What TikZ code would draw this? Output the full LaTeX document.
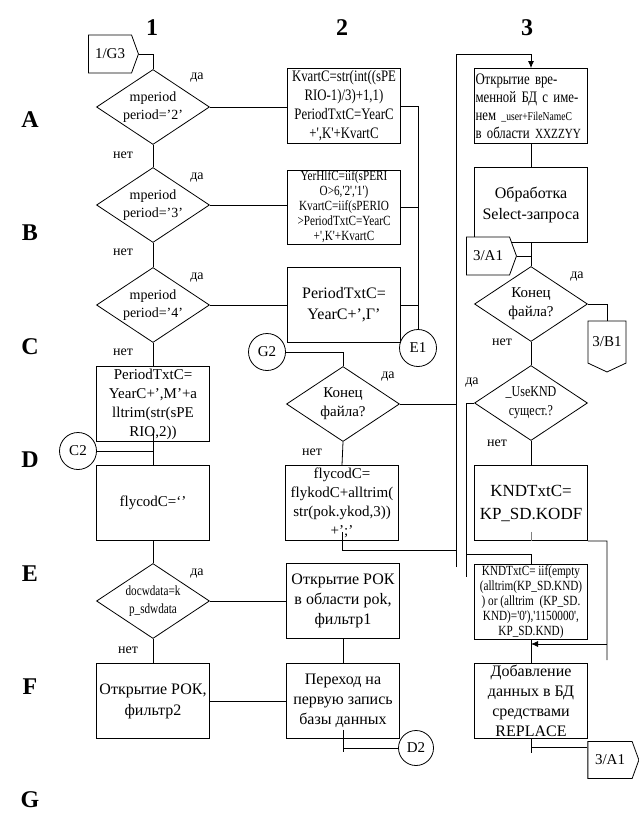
\documentclass[tikz,border=0pt]{standalone}
\usepackage{fontspec}
\setmainfont{Liberation Serif}
\newfontfamily\narrow[FakeStretch=0.8]{Liberation Serif}
\usetikzlibrary{shapes.geometric,shapes.symbols,arrows.meta}

\begin{document}
\begin{tikzpicture}[x=1pt,y=-1pt,line width=0.8pt]
    \tikzstyle{every node}+=[inner sep=0pt]
    \tikzstyle{blk}=[draw,fill=white,minimum width=113pt,minimum height=75pt,inner sep=1pt,align=center,font=\fontsize{15}{19}\selectfont]
    \tikzstyle{cond}=[draw,fill=white,diamond,shape aspect=1.53,minimum width=113pt,minimum height=75pt,inner sep=-3pt,align=center,font=\fontsize{14}{18}\selectfont]
    \tikzstyle{conn}=[draw,fill=white,circle,minimum size=37pt,font=\fontsize{15}{15}\selectfont]
    \tikzstyle{page}=[draw,fill=white,signal,signal from=nowhere,signal pointer angle=140,font=\fontsize{15}{15}\selectfont]
    \tikzstyle{lbl}=[font=\fontsize{14}{14}\selectfont]
    \tikzstyle{hdr}=[font=\fontsize{24}{24}\selectfont\bfseries]
    \useasboundingbox (0,0) rectangle (639,819);
    % headers
    \node[hdr] (h1) at (152,28) {1};
    \node[hdr] (h2) at (342,28) {2};
    \node[hdr] (h3) at (527,28) {3};
    \foreach \r/\y in {A/120,B/233,C/347,D/460,E/574,F/687,G/800}
        \node[hdr] (row\r) at (30,\y) {\r};
    % column 1
    \node[page,signal to=east,minimum width=50pt,minimum height=38pt] (g3) at (110,54) {1/G3};
    \node[cond] (d1) at (153,107) {mperiod\\period='2'};
    \node[cond] (d2) at (153,205) {mperiod\\period='3'};
    \node[cond] (d3) at (153,305) {mperiod\\period='4'};
    \node[blk] (bM) at (153,404) {PeriodTxtC=\\YearC+',M'+a\\lltrim(str(sPE\\RIO,2))};
    \node[conn] (c2) at (78,451) {C2};
    \node[blk] (bFlyA) at (153,503) {flycodC=`'};
    \node[cond,font=\narrow\fontsize{14}{18}\selectfont] (d4) at (153,601) {docwdata=k\\p\_sdwdata};
    \node[blk,font=\fontsize{16}{21}\selectfont] (bPokB) at (153,701) {Открытие РОК,\\фильтр2};
    % column 2
    \node[blk,font=\narrow\fontsize{16}{19}\selectfont] (bK1) at (344,106) {KvartC=str(int((sPE\\RIO-1)/3)+1,1)\\PeriodTxtC=YearC\\+',K'+KvartC};
    \node[blk,minimum height=71pt,font=\narrow\fontsize{14}{15}\selectfont] (bK2) at (344,207) {YerHlfC=iif(sPERI\\O>6,'2','1')\\KvartC=iif(sPERIO\\>PeriodTxtC=YearC\\+',K'+KvartC};
    \node[blk,font=\fontsize{16}{21}\selectfont] (bG) at (344,305) {PeriodTxtC=\\YearC+',Г'};
    \node[conn] (e1) at (418,348) {E1};
    \node[conn] (g2) at (267,352) {G2};
    \node[cond,font=\fontsize{15}{19}\selectfont] (dEndB) at (343,404) {Конец\\файла?};
    \node[blk] (bFlyB) at (342,503) {flycodC=\\flykodC+alltrim(\\str(pok.ykod,3))\\+';'};
    \node[blk,font=\fontsize{16}{20}\selectfont] (bPokA) at (343,601) {Открытие РОК\\в области pok,\\фильтр1};
    \node[blk,font=\fontsize{16}{20}\selectfont] (bGo) at (343,701) {Переход на\\первую запись\\базы данных};
    \node[conn,minimum size=35pt] (d2c) at (416,748) {D2};
    % column 3
    \node[blk,align=left,text width=111pt,font=\narrow\fontsize{16}{18}\selectfont] (bTmp) at (531,106) {Открытие вре-\\менной БД с име-\\нем {\fontsize{12}{12}\selectfont\_user+FileNameC}\\в области {\fontsize{14}{14}\selectfont XXZZYY}};
    \node[blk,font=\fontsize{16}{21}\selectfont] (bSel) at (531,205) {Обработка\\Select-запроса};
    \node[page,signal to=east,minimum width=50pt,minimum height=38pt] (a1t) at (488,256) {3/A1};
    \node[cond,font=\fontsize{15}{19}\selectfont] (dEndC) at (531,304) {Конец\\файла?};
    \node[page,signal to=south,minimum width=38pt,minimum height=49pt,signal pointer angle=130] (b1) at (607,342) {3/B1};
    \node[cond,font=\narrow\fontsize{15}{19}\selectfont] (dUse) at (531,403) {\_UseKND\\сущест.?};
    \node[blk,font=\fontsize{17}{23}\selectfont] (bKndA) at (531,503) {KNDTxtC=\\KP\_SD.KODF};
    \node[blk,font=\narrow\fontsize{14}{15}\selectfont] (bKndB) at (531,602) {KNDTxtC= iif(empty\\(alltrim(KP\_SD.KND)\\) or (alltrim\ \ (KP\_SD.\\KND)='0'),'1150000',\\KP\_SD.KND)};
    \node[blk,font=\fontsize{16}{20}\selectfont] (bAdd) at (531,701) {Добавление\\данных в БД\\средствами\\REPLACE};
    \node[page,signal to=east,minimum width=51pt,minimum height=37pt] (a1b) at (610,760) {3/A1};
    % yes / no labels
    \node[lbl] (y1) at (197,78) {да};   \node[lbl] (n1) at (123,155) {нет};
    \node[lbl] (y2) at (197,178) {да};  \node[lbl] (n2) at (123,252) {нет};
    \node[lbl] (y3) at (197,278) {да};  \node[lbl] (n3) at (123,352) {нет};
    \node[lbl] (y4) at (197,574) {да};  \node[lbl] (n4) at (128,650) {нет};
    \node[lbl] (y5) at (388,377) {да};  \node[lbl] (n5) at (312,452) {нет};
    \node[lbl] (y6) at (577,277) {да};  \node[lbl] (n6) at (502,342) {нет};
    \node[lbl] (y7) at (472,383) {да};  \node[lbl] (n7) at (497,443) {нет};
    % helper points
    \coordinate (lpTop) at (456,54);
    \coordinate (lpBot) at (456,567);
    \coordinate (flyJ) at (456,550);
    \coordinate (useBot) at (466,577);
    \coordinate (useJ) at (466,554);
    \coordinate (kndR) at (607,541);
    \coordinate (kndJ) at (607,644);
    \coordinate (addJ) at (531,747);
    % column 1 lines
    \draw (g3.east) -| (d1.north);
    \draw (d1.south) -- (d2.north);
    \draw (d2.south) -- (d3.north);
    \draw (d3.south) -- (bM.north);
    \draw (bM.south) ++(0,-8) -- (bFlyA.north);
    \draw (c2.east) -- (c2.east -| bM.south);
    \draw (bFlyA.south) -- (d4.north);
    \draw (d4.south) -- (bPokB.north);
    \draw (d1.east) -- (d1.east -| bK1.west);
    \draw (d2.east) -- (d2.east -| bK2.west);
    \draw (d3.east) -- (d3.east -| bG.west);
    \draw (d4.east) -- (d4.east -| bPokA.west);
    \draw (bPokB.east) -- (bPokB.east -| bGo.west);
    % column 2 lines
    \draw (bK1.east) -| (e1.north);
    \draw (bK2.east) -- (bK2.east -| e1.north);
    \draw (bG.east) -- (bG.east -| e1.north);
    \draw (g2.east) -| (dEndB.north);
    \draw (dEndB.south) -- (bFlyB.north);
    \draw (bFlyB.south) ++(0,-9) |- (flyJ);
    \draw (dEndB.east) -- (dEndB.east -| lpTop);
    \draw[-{Latex[length=7pt,width=6pt]}] (lpBot) -- (lpTop) -| (bTmp.north);
    \draw (bPokA.south) -- (bGo.north);
    \draw (bGo.south) ++(0,-9) -- ++(0,22);
    \draw (bGo.south |- d2c.west) -- (d2c.west);
    % column 3 lines
    \draw (bTmp.south) -- (bSel.north);
    \draw (bSel.south) -- (dEndC.north);
    \draw (a1t.east) -- (a1t.east -| dEndC.north);
    \draw (dEndC.east) -| (b1.north);
    \draw (dEndC.south) -- (dUse.north);
    \draw (dUse.south) -- (bKndA.north);
    \draw (dUse.west) -| (useBot);
    \draw (useJ) -| (bKndB.north);
    \draw[gray] (bKndA.south) ++(0,-9) -- (bKndA.south);
    \draw (bKndA.south east) -- (kndR) -- ++(0,119);
    \draw[-{Latex[length=7pt,width=6pt]}] (kndJ) -- (kndJ -| bKndB.south);
    \draw (bKndB.south) -- (bAdd.north);
    \draw (bAdd.south) -- ++(0,14);
    \draw (addJ) -- (addJ -| a1b.west);
\end{tikzpicture}
\end{document}
